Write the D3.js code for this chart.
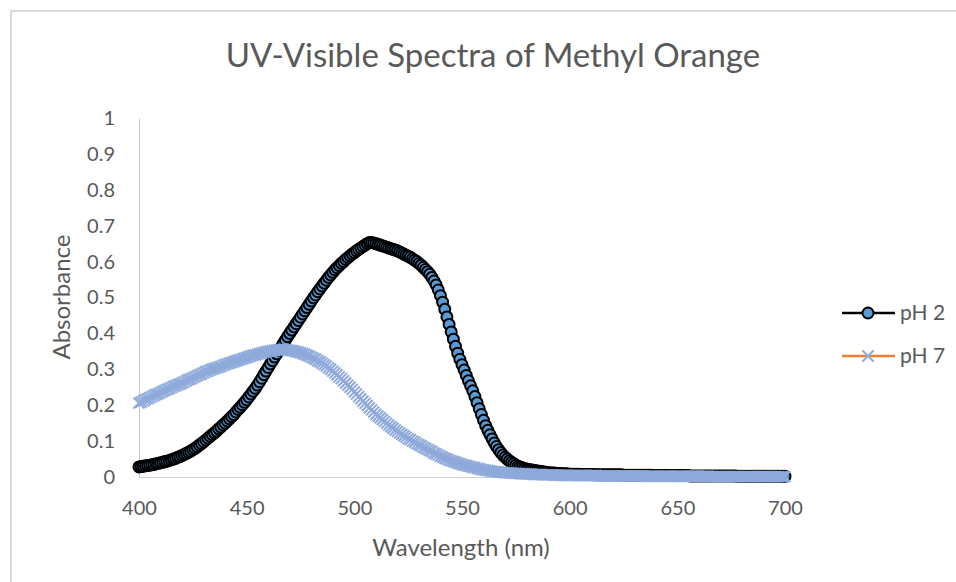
<!DOCTYPE html>
<html>
<head>
<meta charset="utf-8">
<script src="https://cdn.jsdelivr.net/npm/d3@7"></script>
<style>
  html, body { margin: 0; padding: 0; background: #fff; }
  svg { display: block; }
  text { font-family: Lato, "Open Sans", sans-serif; fill: #595959; }
</style>
</head>
<body>
<svg id="chart" width="956" height="582"></svg>
<script>
// Chart title and axis titles
const chartTitle = "UV-Visible Spectra of Methyl Orange";
const xTitle = "Wavelength (nm)";
const yTitle = "Absorbance";

// Series names
const seriesNames = ["pH 2", "pH 7"];

// Axis ticks
const xTicks = [400, 450, 500, 550, 600, 650, 700];
const yTicks = [0, 0.1, 0.2, 0.3, 0.4, 0.5, 0.6, 0.7, 0.8, 0.9, 1];

// Wavelengths, 400–700 nm in 1 nm steps
const wavelengths = d3.range(400, 701);

// Absorbance at pH 2 (one value per nm, starting at 400 nm)
const absPH2 = [
  .028,.029,.030,.031,.032,.033,.034,.035,.037,.038, // 400
  .040,.041,.043,.044,.046,.048,.050,.052,.055,.057, // 410
  .060,.063,.066,.069,.072,.076,.080,.084,.089,.093, // 420
  .098,.103,.108,.113,.118,.123,.128,.134,.139,.145, // 430
  .150,.156,.162,.168,.174,.181,.188,.194,.201,.208, // 440
  .215,.223,.231,.239,.247,.256,.265,.275,.285,.295, // 450
  .305,.315,.324,.334,.343,.353,.362,.372,.381,.391, // 460
  .400,.409,.418,.427,.436,.445,.454,.463,.472,.481, // 470
  .490,.499,.507,.516,.524,.532,.540,.548,.556,.563, // 480
  .570,.577,.583,.589,.595,.600,.606,.611,.616,.621, // 490
  .625,.630,.634,.638,.642,.646,.650,.653,.653,.652, // 500
  .650,.648,.646,.644,.642,.640,.638,.636,.634,.632, // 510
  .630,.627,.624,.621,.618,.615,.612,.608,.604,.600, // 520
  .595,.590,.584,.578,.572,.565,.556,.546,.535,.521, // 530
  .505,.487,.467,.446,.425,.404,.384,.364,.345,.328, // 540
  .313,.298,.283,.268,.254,.240,.224,.207,.190,.174, // 550
  .158,.143,.130,.118,.106,.095,.085,.076,.068,.061, // 560
  .055,.050,.045,.041,.037,.033,.030,.028,.026,.024, // 570
  .022,.021,.020,.019,.018,.017,.016,.015,.014,.013, // 580
  .012,.012,.011,.011,.010,.010,.010,.009,.009,.009, // 590
  .008,.008,.008,.008,.008,.007,.007,.007,.007,.007, // 600
  .007,.007,.007,.006,.006,.006,.006,.006,.006,.006, // 610
  .006,.006,.006,.006,.006,.005,.005,.005,.005,.005, // 620
  .005,.005,.005,.005,.005,.005,.005,.005,.005,.004, // 630
  .004,.004,.004,.004,.004,.004,.004,.004,.004,.004, // 640
  .004,.004,.004,.004,.004,.004,.003,.003,.003,.003, // 650
  .003,.003,.003,.003,.003,.003,.003,.003,.003,.003, // 660
  .003,.003,.003,.003,.003,.003,.003,.003,.002,.002, // 670
  .002,.002,.002,.002,.002,.002,.002,.002,.002,.002, // 680
  .002,.002,.002,.002,.002,.002,.002,.002,.002,.002, // 690
  .002                                               // 700
];

// Absorbance at pH 7 (one value per nm, starting at 400 nm)
const absPH7 = [
  .206,.209,.212,.215,.218,.221,.224,.227,.230,.232, // 400
  .235,.238,.241,.244,.246,.249,.252,.254,.257,.259, // 410
  .262,.265,.268,.271,.273,.276,.279,.282,.285,.287, // 420
  .290,.293,.295,.298,.300,.302,.304,.306,.308,.311, // 430
  .313,.315,.317,.319,.321,.323,.325,.327,.329,.331, // 440
  .333,.335,.337,.339,.340,.342,.344,.345,.347,.348, // 450
  .350,.351,.352,.353,.354,.354,.355,.355,.355,.354, // 460
  .353,.352,.351,.349,.348,.346,.344,.342,.339,.337, // 470
  .334,.331,.328,.324,.321,.317,.313,.309,.304,.300, // 480
  .295,.290,.285,.279,.274,.268,.262,.256,.250,.244, // 490
  .237,.231,.224,.218,.211,.205,.199,.193,.187,.181, // 500
  .175,.170,.165,.160,.155,.150,.145,.140,.136,.131, // 510
  .127,.123,.119,.115,.111,.107,.104,.100,.097,.093, // 520
  .090,.087,.083,.080,.077,.074,.071,.067,.064,.061, // 530
  .058,.055,.052,.050,.047,.045,.043,.041,.039,.037, // 540
  .035,.033,.032,.030,.029,.027,.026,.024,.023,.021, // 550
  .020,.019,.018,.017,.016,.015,.015,.014,.013,.013, // 560
  .012,.012,.011,.011,.010,.010,.010,.009,.009,.009, // 570
  .008,.008,.008,.007,.007,.007,.007,.007,.006,.006, // 580
  .006,.006,.006,.005,.005,.005,.005,.005,.005,.005, // 590
  .004,.004,.004,.004,.004,.004,.004,.004,.004,.004, // 600
  .004,.004,.004,.003,.003,.003,.003,.003,.003,.003, // 610
  .003,.003,.003,.003,.003,.003,.003,.003,.003,.003, // 620
  .003,.003,.003,.003,.003,.002,.002,.002,.002,.002, // 630
  .002,.002,.002,.002,.002,.002,.002,.002,.002,.002, // 640
  .002,.002,.002,.002,.002,.002,.002,.002,.002,.002, // 650
  .002,.002,.002,.002,.002,.001,.001,.001,.001,.001, // 660
  .001,.001,.001,.001,.001,.001,.001,.001,.001,.001, // 670
  .001,.001,.001,.001,.001,.001,.001,.001,.001,.001, // 680
  .001,.001,.001,.001,.001,.001,.001,.001,.001,.001, // 690
  .001                                               // 700
];

const svg = d3.select("#chart");

// Outer chart frame
svg.append("rect")
  .attr("x", 11).attr("y", 11)
  .attr("width", 1000).attr("height", 1000)
  .attr("fill", "none")
  .attr("stroke", "#d9d9d9")
  .attr("stroke-width", 2);

const x = d3.scaleLinear().domain([400, 700]).range([139, 785]);
const y = d3.scaleLinear().domain([0, 1]).range([477, 118]);

// Title
svg.append("text")
  .attr("x", 493).attr("y", 67)
  .attr("text-anchor", "middle")
  .style("font-size", "33px")
  .text(chartTitle);

// Y axis
const yAxis = svg.append("g")
  .attr("transform", `translate(${x.range()[0]},0)`)
  .call(d3.axisLeft(y).tickValues(yTicks).tickSize(0).tickSizeOuter(0).tickPadding(24)
        .tickFormat(d => d3.format("~g")(d)));
yAxis.select(".domain").attr("stroke", "#c6c6c6").attr("stroke-width", 1);
yAxis.selectAll("text").style("font-size", "20px").attr("fill", "#595959")
  .style("font-family", "Lato, 'Open Sans', sans-serif");

// X axis
const xAxis = svg.append("g")
  .attr("transform", `translate(0,${y(0)})`)
  .call(d3.axisBottom(x).tickValues(xTicks).tickSize(0).tickSizeOuter(0).tickPadding(24));
xAxis.select(".domain").attr("stroke", "#d0d0d0").attr("stroke-width", 1);
xAxis.selectAll("text").style("font-size", "20px").attr("fill", "#595959")
  .style("font-family", "Lato, 'Open Sans', sans-serif");

// Axis titles
svg.append("text")
  .attr("x", 461).attr("y", 556)
  .attr("text-anchor", "middle")
  .style("font-size", "24px")
  .text(xTitle);
svg.append("text")
  .attr("transform", "translate(70,297) rotate(-90)")
  .attr("text-anchor", "middle")
  .style("font-size", "24px")
  .text(yTitle);

const line = d3.line().x(d => x(d[0])).y(d => y(d[1]));
const pts2 = wavelengths.map((w, i) => [w, absPH2[i]]);
const pts7 = wavelengths.map((w, i) => [w, absPH7[i]]);

const colors = { line2: "#000000", fill2: "#5b9bd5", line7: "#ed7d31", mark7: "#8eaadb" };
const xMark = s => `M${-s},${-s}L${s},${s}M${-s},${s}L${s},${-s}`;

// pH 2: black line with blue circle markers
svg.append("path").datum(pts2)
  .attr("d", line).attr("fill", "none")
  .attr("stroke", colors.line2).attr("stroke-width", 2.5);
svg.append("g").selectAll("circle").data(pts2).join("circle")
  .attr("cx", d => x(d[0])).attr("cy", d => y(d[1])).attr("r", 5.5)
  .attr("fill", colors.fill2).attr("stroke", "#000").attr("stroke-width", 2);

// pH 7: orange line with light-blue cross markers
svg.append("path").datum(pts7)
  .attr("d", line).attr("fill", "none")
  .attr("stroke", colors.line7).attr("stroke-width", 2.5);
svg.append("g").selectAll("path").data(pts7).join("path")
  .attr("transform", d => `translate(${x(d[0])},${y(d[1])})`)
  .attr("d", xMark(5.5))
  .attr("fill", "none").attr("stroke", colors.mark7).attr("stroke-width", 2);

// Legend
const legend = svg.append("g");
const rows = [
  { name: seriesNames[0], yy: 313, kind: "circle" },
  { name: seriesNames[1], yy: 356, kind: "cross" }
];
rows.forEach(r => {
  const g = legend.append("g").attr("transform", `translate(0,${r.yy})`);
  g.append("line").attr("x1", 842).attr("x2", 895).attr("y1", 0).attr("y2", 0)
    .attr("stroke", r.kind === "circle" ? colors.line2 : colors.line7).attr("stroke-width", 2.5);
  if (r.kind === "circle") {
    g.append("circle").attr("cx", 868).attr("cy", 0).attr("r", 5.5)
      .attr("fill", colors.fill2).attr("stroke", "#000").attr("stroke-width", 2);
  } else {
    g.append("path").attr("transform", "translate(868,0)").attr("d", xMark(5.5))
      .attr("fill", "none").attr("stroke", colors.mark7).attr("stroke-width", 2);
  }
  g.append("text").attr("x", 900).attr("y", 0).attr("dy", "0.35em")
    .style("font-size", "21px").text(r.name);
});
</script>
</body>
</html>
